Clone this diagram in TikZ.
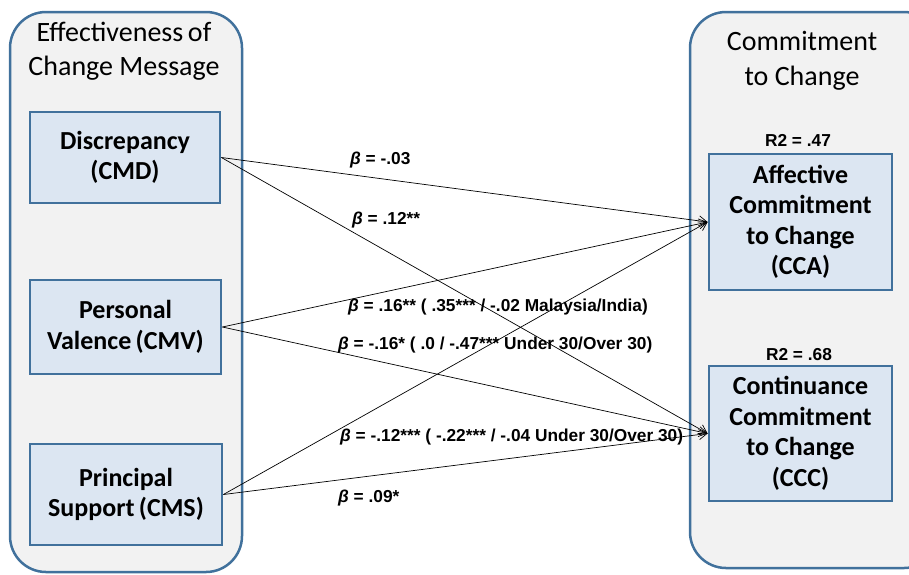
\documentclass[tikz,border=0pt]{standalone}
\usepackage{fontspec}
\setmainfont{Carlito}
\newfontfamily\labelfont{Liberation Sans}
\usetikzlibrary{arrows.meta}
\definecolor{edgeblue}{RGB}{65,113,156}
\definecolor{panelgray}{RGB}{242,242,242}
\definecolor{boxblue}{RGB}{220,230,242}
\begin{document}
\begin{tikzpicture}[x=1pt,y=-1pt,
  panel/.style={draw=edgeblue,line width=2.5pt,fill=panelgray,rounded corners=36pt},
  construct/.style={draw=edgeblue,line width=2.8pt,fill=boxblue,align=center,
    font=\fontsize{26}{30.5}\selectfont\bfseries,inner sep=0pt},
  paneltitle/.style={align=center,font=\fontsize{28}{34.5}\selectfont},
  coef/.style={font=\labelfont\fontsize{17.3}{19}\selectfont\bfseries,inner sep=0pt,anchor=west},
  rsq/.style={font=\labelfont\fontsize{17.3}{19}\selectfont\bfseries,inner sep=0pt},
  path/.style={draw=black,line width=0.7pt,-{Straight Barb[length=8pt,width=10pt]}}]
\useasboundingbox (0,0) rectangle (909,574);

% outer panels
\path[panel] (10,12) rectangle (242,572);
\path[panel] (690,12) rectangle (940,568);
\node[paneltitle] (lt) at (124,51) {Effectiveness\,of\\Change Message};
\node[paneltitle] (rt) at (802,61) {Commitment\\to Change};

% predictor constructs
\node[construct,minimum width=190pt,minimum height=91pt] (cmd) at (125,157.5) {Discrepancy\\(CMD)};
\node[construct,minimum width=191pt,minimum height=94pt] (cmv) at (125.5,327) {Personal\\Valence\,(CMV)};
\node[construct,minimum width=192pt,minimum height=101pt] (cms) at (126,494.5) {Principal\\Support\,(CMS)};

% outcome constructs
\node[construct,minimum width=183pt,minimum height=136pt] (cca) at (800.5,222) {Affective\\Commitment\\to Change\\(CCA)};
\node[construct,minimum width=183pt,minimum height=135pt] (ccc) at (800.5,433.5) {Continuance\\Commitment\\to Change\\(CCC)};

\node[rsq] (r1) at (798,140) {R2 = .47};
\node[rsq] (r2) at (799,355) {R2 = .68};

% structural paths
\draw[path] (cmd.east) -- (cca.west);
\draw[path] (cmd.east) -- (ccc.west);
\draw[path] (cmv.east) -- (cca.west);
\draw[path] (cmv.east) -- (ccc.west);
\draw[path] (cms.east) -- (cca.west);
\draw[path] (cms.east) -- (ccc.west);

% path coefficients
\node[coef] (b1) at (350,160) {\textit{β} = -.03};
\node[coef] (b2) at (352,220) {\textit{β} = .12**};
\node[coef] (b3) at (348,307) {\textit{β} = .16** ( .35*** / -.02 Malaysia/India)};
\node[coef] (b4) at (338,345) {\textit{β} = -.16* ( .0 / -.47*** Under 30/Over 30)};
\node[coef] (b5) at (340,437) {\textit{β} = -.12*** ( -.22*** / -.04 Under 30/Over 30)};
\node[coef] (b6) at (338,498) {\textit{β} = .09*};
\end{tikzpicture}
\end{document}
